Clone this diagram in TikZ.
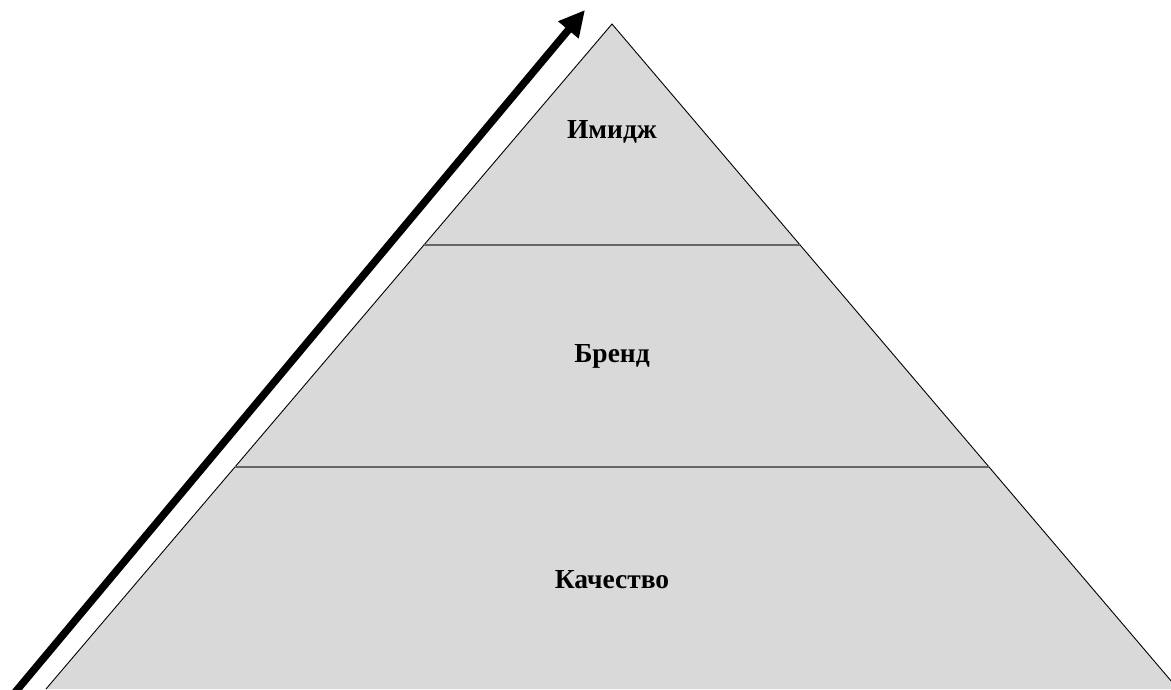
\documentclass[tikz,border=0pt]{standalone}
\usepackage{fontspec}
\setmainfont{Liberation Serif}
\usetikzlibrary{arrows.meta,calc}
\begin{document}
\begin{tikzpicture}[x=1pt,y=-1pt,
  level/.style={font=\fontsize{27.5}{33}\selectfont\bfseries, text=black},
  divider/.style={draw=black!60, line width=2.6pt},
  rise/.style={line width=7.5pt, -{Triangle[length=26pt,width=25pt]}}]
\useasboundingbox (0,0) rectangle (1171,689);
\coordinate (apex) at (612,24);
\coordinate (bl) at (46,689);
\coordinate (br) at (1178,689);
\fill[fill=black!15] (apex) -- (bl) -- (br) -- cycle;
\draw[line width=0.9pt] (bl) -- (apex) -- (br);
\coordinate (l1) at ($(apex)!0.3323!(bl)$);
\coordinate (r1) at ($(apex)!0.3323!(br)$);
\coordinate (l2) at ($(apex)!0.6662!(bl)$);
\coordinate (r2) at ($(apex)!0.6662!(br)$);
\draw[divider] (l1) -- (r1);
\draw[divider] (l2) -- (r2);
\node[level] (image) at (612,132) {Имидж};
\node[level] (brand) at (612,356) {Бренд};
\node[level] (quality) at (612,580) {Качество};
\coordinate (a0) at (12,696);
\coordinate (a1) at (585,10);
\draw[rise] (a0) -- (a1);
\end{tikzpicture}
\end{document}
